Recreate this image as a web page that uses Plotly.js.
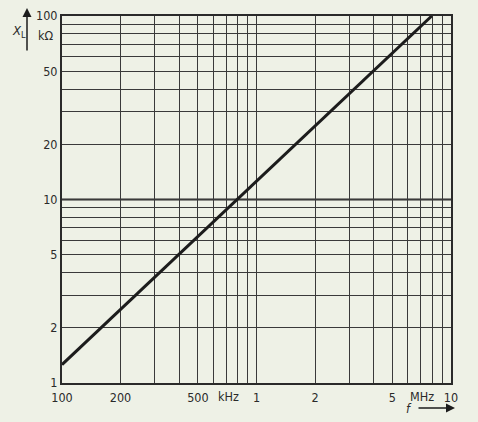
<!DOCTYPE html>
<html><head><meta charset="utf-8">
<script src="https://cdn.plot.ly/plotly-3.0.1.min.js"></script>
<style>html,body{margin:0;padding:0;background:#eef1e6;}#c{width:478px;height:422px;}</style>
</head><body><div id="c"></div>
<script>
// frequency (Hz) and inductive reactance (kΩ)
const freqHz = [100e3, 1e6, 7.96e6];
const reactanceKOhm = [1.26, 12.6, 100];

const xGridVals = [1e5,2e5,3e5,4e5,5e5,6e5,7e5,8e5,9e5,1e6,2e6,3e6,4e6,5e6,6e6,7e6,8e6,9e6,1e7];
const xGridText = ['100','200','','','500','','','','','1','2','','','5','','','','','10'];
const yGridVals = [1,2,3,4,5,6,7,8,9,10,20,30,40,50,60,70,80,90,100];
const yGridText = ['1','2','','','5','','','','','10','20','','','50','','','','','100'];

const font = {family: '"DejaVu Sans Condensed", "Liberation Sans Narrow", "DejaVu Sans", sans-serif', size: 12.5, color: '#2a2a2a'};

const trace = {x: freqHz, y: reactanceKOhm, type: 'scatter', mode: 'lines',
  line: {color: '#1c1c1c', width: 3}, hoverinfo: 'none'};

const layout = {
  width: 478, height: 422,
  margin: {l: 62, r: 27, t: 16, b: 39},
  paper_bgcolor: '#eef1e6', plot_bgcolor: '#eef1e6',
  showlegend: false,
  font: font,
  xaxis: {type: 'log', range: [5, 7], tickmode: 'array', tickvals: xGridVals, ticktext: xGridText,
    showgrid: true, gridcolor: '#3a3a3a', gridwidth: 1, ticks: '', zeroline: false,
    showline: true, mirror: true, linecolor: '#2a2a2a', linewidth: 2, tickfont: font, ticklabelstandoff: 2},
  yaxis: {type: 'log', range: [0, 2], tickmode: 'array', tickvals: yGridVals, ticktext: yGridText,
    showgrid: true, gridcolor: '#3a3a3a', gridwidth: 1, ticks: '', zeroline: false,
    showline: true, mirror: true, linecolor: '#2a2a2a', linewidth: 2, tickfont: font},
  shapes: [
    {type: 'line', xref: 'paper', x0: 0, x1: 1, yref: 'y', y0: 10, y1: 10, line: {color: '#2a2a2a', width: 2}, layer: 'below'}
  ],
  annotations: [
    {xref: 'x', yref: 'paper', x: Math.log10(5e5), y: 0, yshift: -13, xshift: 18, xanchor: 'left', yanchor: 'middle', text: 'kHz', showarrow: false, font: font},
    {xref: 'x', yref: 'paper', x: Math.log10(7.1e6), y: 0, yshift: -13, xanchor: 'center', yanchor: 'middle', text: 'MHz', showarrow: false, font: font},
    {xref: 'paper', yref: 'paper', x: 0, y: 1, xshift: -6, yshift: -19, xanchor: 'right', yanchor: 'middle', text: 'kΩ', showarrow: false, font: font},
    {xref: 'paper', yref: 'paper', x: 0, y: 1, xshift: -43, yshift: -15, xanchor: 'center', yanchor: 'middle', text: '<i>X</i><sub>L</sub>', showarrow: false, font: {family: font.family, size: 13, color: '#2a2a2a'}},
    {xref: 'paper', yref: 'paper', x: 0, y: 1, xshift: -35, yshift: 8, ax: 0, ay: 44, axref: 'pixel', ayref: 'pixel', text: '', showarrow: true, arrowhead: 2, arrowsize: 1.2, arrowwidth: 1.5, arrowcolor: '#1c1c1c'},
    {xref: 'paper', yref: 'paper', x: 1, y: 0, xshift: -4, yshift: -25, xanchor: 'center', yanchor: 'middle', text: '<i>f</i>', showarrow: false, font: font, xanchor: 'right', xshift: -37},
    {xref: 'paper', yref: 'paper', x: 1, y: 0, xshift: 4, yshift: -25, ax: -38, ay: 0, axref: 'pixel', ayref: 'pixel', text: '', showarrow: true, arrowhead: 2, arrowsize: 1.2, arrowwidth: 1.5, arrowcolor: '#1c1c1c'}
  ]
};

Plotly.newPlot('c', [trace], layout, {displayModeBar: false, staticPlot: true});
</script></body></html>
